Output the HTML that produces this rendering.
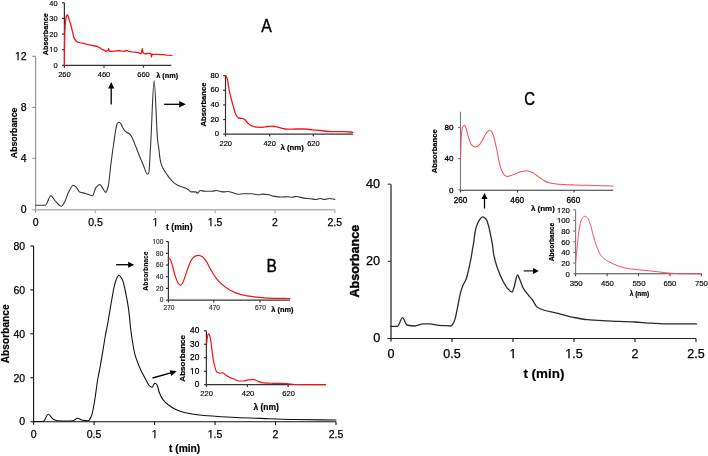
<!DOCTYPE html>
<html><head><meta charset="utf-8"><title>Absorbance chromatograms</title>
<style>
html,body{margin:0;padding:0;background:#fff;}
body{width:708px;height:456px;overflow:hidden;}
svg{display:block;font-family:"Liberation Sans",sans-serif;will-change:transform;}
</style></head>
<body>
<svg width="708" height="456" viewBox="0 0 708 456">
<rect width="708" height="456" fill="#fff"/>
<line x1="35.6" y1="56.3" x2="35.6" y2="212.7" stroke="#8c8c8c" stroke-width="1.1"/>
<line x1="32.4" y1="56.3" x2="35.6" y2="56.3" stroke="#8c8c8c" stroke-width="1.1"/>
<line x1="32.4" y1="107.4" x2="35.6" y2="107.4" stroke="#8c8c8c" stroke-width="1.1"/>
<line x1="32.4" y1="158.4" x2="35.6" y2="158.4" stroke="#8c8c8c" stroke-width="1.1"/>
<line x1="32.2" y1="209.7" x2="335.3" y2="209.7" stroke="#b4b4b4" stroke-width="1.5"/>
<line x1="95.45" y1="209.7" x2="95.45" y2="213.2" stroke="#b4b4b4" stroke-width="1.3"/>
<line x1="155.3" y1="209.7" x2="155.3" y2="213.2" stroke="#b4b4b4" stroke-width="1.3"/>
<line x1="215.15" y1="209.7" x2="215.15" y2="213.2" stroke="#b4b4b4" stroke-width="1.3"/>
<line x1="275" y1="209.7" x2="275" y2="213.2" stroke="#b4b4b4" stroke-width="1.3"/>
<line x1="334.85" y1="209.7" x2="334.85" y2="213.2" stroke="#b4b4b4" stroke-width="1.3"/>
<text x="26.6" y="60.1" font-size="10.5" text-anchor="end" fill="#000" stroke="#000" stroke-width="0.25">12</text>
<text x="26.6" y="111.2" font-size="10.5" text-anchor="end" fill="#000" stroke="#000" stroke-width="0.25">8</text>
<text x="26.6" y="162.2" font-size="10.5" text-anchor="end" fill="#000" stroke="#000" stroke-width="0.25">4</text>
<text x="26.6" y="213.3" font-size="10.5" text-anchor="end" fill="#000" stroke="#000" stroke-width="0.25">0</text>
<text x="35.6" y="226.3" font-size="10.5" text-anchor="middle" fill="#000" stroke="#000" stroke-width="0.25">0</text>
<text x="95.45" y="226.3" font-size="10.5" text-anchor="middle" fill="#000" stroke="#000" stroke-width="0.25">0.5</text>
<text x="155.3" y="226.3" font-size="10.5" text-anchor="middle" fill="#000" stroke="#000" stroke-width="0.25">1</text>
<text x="215.15" y="226.3" font-size="10.5" text-anchor="middle" fill="#000" stroke="#000" stroke-width="0.25">1.5</text>
<text x="275" y="226.3" font-size="10.5" text-anchor="middle" fill="#000" stroke="#000" stroke-width="0.25">2</text>
<text x="334.85" y="226.3" font-size="10.5" text-anchor="middle" fill="#000" stroke="#000" stroke-width="0.25">2.5</text>
<text x="17.4" y="132.9" font-size="8.75" text-anchor="middle" font-weight="bold" fill="#000" stroke="#000" stroke-width="0.2" transform="rotate(-90 17.4 132.9)">Absorbance</text>
<text x="179.3" y="230.1" font-size="8.7" text-anchor="middle" font-weight="bold" fill="#000" stroke="#000" stroke-width="0.2">t (min)</text>
<text x="266.6" y="31.7" font-size="17.7" text-anchor="middle" fill="#000" stroke="#000" stroke-width="0.35" transform="translate(266.6 31.7) scale(0.89 1) translate(-266.6 -31.7)">A</text>
<path d="M35.8,205.3 C38.97,205.3 42.13,205.3 45.3,205.3 C47.13,205.3 48.97,195.7 50.8,195.7 C52.47,195.7 54.13,200.07 55.8,201.7 C57.63,203.49 59.47,206.2 61.3,206.2 C62.53,206.2 63.77,203.39 65,201.2 C66.1,199.25 67.2,194.91 68.3,192.8 C69.97,189.6 71.63,185.3 73.3,185.3 C74.43,185.3 75.57,186.7 76.7,187.8 C77.7,188.77 78.7,191.55 79.7,192 C81.47,192.79 83.23,192.81 85,193.3 C87.5,193.99 90,195.7 92.5,195.7 C93.6,195.7 94.7,189.24 95.8,187.8 C97.03,186.18 98.27,184.5 99.5,184.5 C100.5,184.5 101.5,186.54 102.5,187.8 C103.53,189.1 104.57,192.4 105.6,192.4 C106.5,192.4 107.4,189.35 108.3,186 C109.13,182.9 109.97,171.68 110.8,165 C111.45,159.79 112.1,154.72 112.75,150 C113.07,147.7 113.38,145.61 113.7,143.4 C114.07,140.84 114.43,138.09 114.8,135.7 C115.2,133.09 115.6,130.38 116,128.4 C116.37,126.59 116.73,124.32 117.1,123.8 C117.73,122.9 118.37,122.3 119,122.3 C119.67,122.3 120.33,123.02 121,123.8 C121.5,124.38 122,126.35 122.5,127.3 C123.13,128.5 123.77,129.58 124.4,130.3 C125.17,131.17 125.93,131.74 126.7,132.3 C127.73,133.05 128.77,133.31 129.8,134.2 C130.3,134.63 130.8,135.31 131.3,136.1 C132.07,137.3 132.83,139.33 133.6,141.1 C134.63,143.49 135.67,146.15 136.7,148.8 C137.33,150.42 137.97,152.2 138.6,153.8 C140.17,157.75 141.73,161.43 143.3,165 C144.7,168.19 146.1,174.2 147.5,174.2 C147.9,174.2 148.3,173.86 148.7,173.3 C149.13,172.69 149.57,163.33 150,156.7 C150.3,152.11 150.6,145.57 150.9,140 C151.97,120.2 153.03,80.6 154.1,80.6 C155.27,80.6 156.43,128.92 157.6,140 C158.07,144.43 158.53,146.34 159,150 C159.33,152.61 159.67,156.71 160,158.6 C160.53,161.63 161.07,163.61 161.6,165.1 C162.47,167.52 163.33,168.9 164.2,170.4 C165.07,171.9 165.93,173.08 166.8,174.3 C168.2,176.27 169.6,178.33 171,179.8 C172.93,181.83 174.87,183.77 176.8,184.8 C178.7,185.81 180.6,186.21 182.5,187 C184.37,187.77 186.23,188.38 188.1,189.5 C189.07,190.08 190.03,191.9 191,191.9 C192.63,191.9 194.27,191.9 195.9,191.9 C196.37,191.9 196.83,193.3 197.3,193.3 C198.23,193.3 199.17,190.5 200.1,190.5 C201.77,190.5 203.43,191.2 205.1,191.2 C207.43,191.2 209.77,191.2 212.1,191.2 C213.53,191.2 214.97,190.5 216.4,190.5 C217.8,190.5 219.2,191.25 220.6,191.5 C221.53,191.66 222.47,191.9 223.4,191.9 C224.83,191.9 226.27,191.5 227.7,191.5 C230.03,191.5 232.37,192.73 234.7,193.3 C236.13,193.65 237.57,194.3 239,194.3 C240.4,194.3 241.8,193.7 243.2,193.7 C246.03,193.7 248.87,193.7 251.7,193.7 C253.93,193.7 256.17,194.8 258.4,194.8 C259.73,194.8 261.07,194.1 262.4,194.1 C264.67,194.1 266.93,194.43 269.2,194.8 C270.53,195.02 271.87,195.86 273.2,196.1 C275.87,196.57 278.53,197 281.2,197 C283.47,197 285.73,196.8 288,196.8 C289.33,196.8 290.67,197.2 292,197.2 C293.33,197.2 294.67,196.5 296,196.5 C298.7,196.5 301.4,197.73 304.1,198.1 C306.33,198.4 308.57,198.54 310.8,198.8 C312.57,199.01 314.33,199.5 316.1,199.5 C317.47,199.5 318.83,198.5 320.2,198.5 C321.53,198.5 322.87,199.5 324.2,199.5 C326,199.5 327.8,198.5 329.6,198.5 C331.37,198.5 333.13,199.17 334.9,199.5" fill="none" stroke="#363636" stroke-width="1.1" stroke-linejoin="round" stroke-linecap="round"/>
<line x1="64.4" y1="2.8" x2="64.4" y2="65.3" stroke="#333" stroke-width="1.2"/>
<line x1="62" y1="65.3" x2="64.4" y2="65.3" stroke="#333" stroke-width="1.2"/>
<line x1="62" y1="49.67" x2="64.4" y2="49.67" stroke="#333" stroke-width="1.2"/>
<line x1="62" y1="34.05" x2="64.4" y2="34.05" stroke="#333" stroke-width="1.2"/>
<line x1="62" y1="18.42" x2="64.4" y2="18.42" stroke="#333" stroke-width="1.2"/>
<line x1="62" y1="2.8" x2="64.4" y2="2.8" stroke="#333" stroke-width="1.2"/>
<line x1="64.4" y1="65.3" x2="171.3" y2="65.3" stroke="#333" stroke-width="1.2"/>
<line x1="64.4" y1="65.3" x2="64.4" y2="67.7" stroke="#333" stroke-width="1.2"/>
<line x1="104" y1="65.3" x2="104" y2="67.7" stroke="#333" stroke-width="1.2"/>
<line x1="143.5" y1="65.3" x2="143.5" y2="67.7" stroke="#333" stroke-width="1.2"/>
<text x="57.6" y="68" font-size="7.5" text-anchor="end" fill="#000" stroke="#000" stroke-width="0.15">0</text>
<text x="57.6" y="52.38" font-size="7.5" text-anchor="end" fill="#000" stroke="#000" stroke-width="0.15">10</text>
<text x="57.6" y="36.75" font-size="7.5" text-anchor="end" fill="#000" stroke="#000" stroke-width="0.15">20</text>
<text x="57.6" y="21.12" font-size="7.5" text-anchor="end" fill="#000" stroke="#000" stroke-width="0.15">30</text>
<text x="57.6" y="5.5" font-size="7.5" text-anchor="end" fill="#000" stroke="#000" stroke-width="0.15">40</text>
<text x="64.4" y="76.8" font-size="7.5" text-anchor="middle" fill="#000" stroke="#000" stroke-width="0.15">260</text>
<text x="104" y="76.8" font-size="7.5" text-anchor="middle" fill="#000" stroke="#000" stroke-width="0.15">460</text>
<text x="143.5" y="76.8" font-size="7.5" text-anchor="middle" fill="#000" stroke="#000" stroke-width="0.15">660</text>
<text x="48.3" y="34.2" font-size="7.3" text-anchor="middle" font-weight="bold" fill="#000" stroke="#000" stroke-width="0.2" transform="rotate(-90 48.3 34.2)">Absorbance</text>
<text x="167.2" y="78.2" font-size="7.3" text-anchor="middle" font-weight="bold" fill="#000" stroke="#000" stroke-width="0.2">λ (nm)</text>
<path d="M64.4,65.3 L64.5,50 L64.6,40.9 L64.9,29.9 L65.5,21.2 L66.4,16.2 L67.3,14.8 L68.2,16.2 L69.3,20.1 L71,25.5 L72.6,32.1 L73.7,37.1 L75.4,40.3 L77.5,42.2 L80.8,42.9 L83,43.1 L86.3,44.2 L90.7,45.1 L95.1,46 L97.3,46.5 L99.5,47.6 L101.8,49.3 L104,50.1 L105.7,51.4 L107.4,50.7 L108.2,50.5 L108.6,48.3 L109.1,51 L111.4,51.4 L114.8,51.1 L118.7,50.7 L122.1,51.1 L124.4,51.4 L126.4,50.3 L128.9,51.4 L131.7,51.8 L135.1,52.1 L138.2,52.7 L140.4,53.7 L141.5,52.9 L142.3,48.7 L143.1,52.7 L145.1,54 L147.5,53.4 L150.9,53.4 L151.5,56.8 L152.2,54.3 L156.9,54.4 L163.1,54.6 L166.8,55.2 L171.8,55.4" fill="none" stroke="#f41414" stroke-width="1.3" stroke-linejoin="round" stroke-linecap="round"/>
<line x1="225.5" y1="75.7" x2="225.5" y2="134.1" stroke="#333" stroke-width="1.2"/>
<line x1="223.1" y1="134.1" x2="225.5" y2="134.1" stroke="#333" stroke-width="1.2"/>
<line x1="223.1" y1="119.5" x2="225.5" y2="119.5" stroke="#333" stroke-width="1.2"/>
<line x1="223.1" y1="104.9" x2="225.5" y2="104.9" stroke="#333" stroke-width="1.2"/>
<line x1="223.1" y1="90.3" x2="225.5" y2="90.3" stroke="#333" stroke-width="1.2"/>
<line x1="223.1" y1="75.7" x2="225.5" y2="75.7" stroke="#333" stroke-width="1.2"/>
<line x1="225.5" y1="134.1" x2="353" y2="134.1" stroke="#333" stroke-width="1.4"/>
<line x1="225.5" y1="134.1" x2="225.5" y2="136.5" stroke="#333" stroke-width="1.2"/>
<line x1="269.7" y1="134.1" x2="269.7" y2="136.5" stroke="#333" stroke-width="1.2"/>
<line x1="313.3" y1="134.1" x2="313.3" y2="136.5" stroke="#333" stroke-width="1.2"/>
<text x="218.9" y="136.2" font-size="7.6" text-anchor="end" fill="#000" stroke="#000" stroke-width="0.22">0</text>
<text x="218.9" y="121.6" font-size="7.6" text-anchor="end" fill="#000" stroke="#000" stroke-width="0.22">20</text>
<text x="218.9" y="107" font-size="7.6" text-anchor="end" fill="#000" stroke="#000" stroke-width="0.22">40</text>
<text x="218.9" y="92.4" font-size="7.6" text-anchor="end" fill="#000" stroke="#000" stroke-width="0.22">60</text>
<text x="218.9" y="77.8" font-size="7.6" text-anchor="end" fill="#000" stroke="#000" stroke-width="0.22">80</text>
<text x="225.8" y="146.1" font-size="7.5" text-anchor="middle" fill="#000" stroke="#000" stroke-width="0.15">220</text>
<text x="269.7" y="146.1" font-size="7.5" text-anchor="middle" fill="#000" stroke="#000" stroke-width="0.15">420</text>
<text x="313.4" y="146.1" font-size="7.5" text-anchor="middle" fill="#000" stroke="#000" stroke-width="0.15">620</text>
<text x="206" y="104.5" font-size="7.6" text-anchor="middle" font-weight="bold" fill="#000" stroke="#000" stroke-width="0.2" transform="rotate(-90 206 104.5)">Absorbance</text>
<text x="292.2" y="149.6" font-size="7.8" text-anchor="middle" font-weight="bold" fill="#000" stroke="#000" stroke-width="0.2">λ (nm)</text>
<path d="M225.9,75.7 C226.37,76.8 226.83,77.42 227.3,79 C227.77,80.58 228.23,85.04 228.7,87.5 C229.53,91.9 230.37,95.56 231.2,98.9 C231.93,101.84 232.67,104.31 233.4,106.8 C234.2,109.51 235,113.01 235.8,114.5 C236.7,116.18 237.6,117.79 238.5,118 C239.6,118.25 240.7,118.2 241.8,118.4 C242.7,118.57 243.6,118.9 244.5,119.4 C245.6,120.01 246.7,122.26 247.8,123.2 C249.13,124.34 250.47,125.41 251.8,125.9 C253.57,126.55 255.33,127.14 257.1,127.2 C258.87,127.26 260.63,127.3 262.4,127.3 C264.17,127.3 265.93,126.67 267.7,126.5 C269.03,126.37 270.37,126.2 271.7,126.2 C272.97,126.2 274.23,126.42 275.5,126.6 C277.2,126.85 278.9,127.52 280.6,127.9 C282.83,128.4 285.07,129.2 287.3,129.2 C290.4,129.2 293.5,129 296.6,129 C299.23,129 301.87,129 304.5,129 C307.17,129 309.83,129.66 312.5,129.9 C315.17,130.14 317.83,130.27 320.5,130.5 C324.03,130.81 327.57,131.6 331.1,131.6 C335.53,131.6 339.97,131.6 344.4,131.6 C347.27,131.6 350.13,132.07 353,132.3" fill="none" stroke="#f41414" stroke-width="1.3" stroke-linejoin="round" stroke-linecap="round"/>
<line x1="111.2" y1="104.6" x2="111.2" y2="88" stroke="#000" stroke-width="1.3"/>
<path d="M111.2,81.9 L114.3,88.5 L108.1,88.5 Z" fill="#000"/>
<line x1="164.2" y1="104.3" x2="179.7" y2="104.3" stroke="#000" stroke-width="1.3"/>
<path d="M185.8,104.3 L179.2,107.6 L179.2,101 Z" fill="#000"/>
<line x1="33.6" y1="246" x2="33.6" y2="424.7" stroke="#111" stroke-width="1.1"/>
<line x1="30.4" y1="246" x2="33.6" y2="246" stroke="#111" stroke-width="1.1"/>
<line x1="30.4" y1="289.9" x2="33.6" y2="289.9" stroke="#111" stroke-width="1.1"/>
<line x1="30.4" y1="333.8" x2="33.6" y2="333.8" stroke="#111" stroke-width="1.1"/>
<line x1="30.4" y1="377.7" x2="33.6" y2="377.7" stroke="#111" stroke-width="1.1"/>
<line x1="30.4" y1="421.7" x2="336" y2="421.7" stroke="#111" stroke-width="1.1"/>
<line x1="94.08" y1="421.7" x2="94.08" y2="425.1" stroke="#111" stroke-width="1.1"/>
<line x1="154.56" y1="421.7" x2="154.56" y2="425.1" stroke="#111" stroke-width="1.1"/>
<line x1="215.04" y1="421.7" x2="215.04" y2="425.1" stroke="#111" stroke-width="1.1"/>
<line x1="275.52" y1="421.7" x2="275.52" y2="425.1" stroke="#111" stroke-width="1.1"/>
<line x1="336" y1="421.7" x2="336" y2="425.1" stroke="#111" stroke-width="1.1"/>
<text x="25.2" y="249.8" font-size="10.5" text-anchor="end" fill="#000" stroke="#000" stroke-width="0.25">80</text>
<text x="25.2" y="293.7" font-size="10.5" text-anchor="end" fill="#000" stroke="#000" stroke-width="0.25">60</text>
<text x="25.2" y="337.6" font-size="10.5" text-anchor="end" fill="#000" stroke="#000" stroke-width="0.25">40</text>
<text x="25.2" y="381.5" font-size="10.5" text-anchor="end" fill="#000" stroke="#000" stroke-width="0.25">20</text>
<text x="25.2" y="425.4" font-size="10.5" text-anchor="end" fill="#000" stroke="#000" stroke-width="0.25">0</text>
<text x="33.6" y="437.6" font-size="10.5" text-anchor="middle" fill="#000" stroke="#000" stroke-width="0.25">0</text>
<text x="94.08" y="437.6" font-size="10.5" text-anchor="middle" fill="#000" stroke="#000" stroke-width="0.25">0.5</text>
<text x="154.56" y="437.6" font-size="10.5" text-anchor="middle" fill="#000" stroke="#000" stroke-width="0.25">1</text>
<text x="215.04" y="437.6" font-size="10.5" text-anchor="middle" fill="#000" stroke="#000" stroke-width="0.25">1.5</text>
<text x="275.52" y="437.6" font-size="10.5" text-anchor="middle" fill="#000" stroke="#000" stroke-width="0.25">2</text>
<text x="336" y="437.6" font-size="10.5" text-anchor="middle" fill="#000" stroke="#000" stroke-width="0.25">2.5</text>
<text x="9" y="333.8" font-size="10.2" text-anchor="middle" font-weight="bold" fill="#000" stroke="#000" stroke-width="0.2" transform="rotate(-90 9 333.8)">Absorbance</text>
<text x="184.6" y="452.3" font-size="10.2" text-anchor="middle" font-weight="bold" fill="#000" stroke="#000" stroke-width="0.2">t (min)</text>
<text x="271.8" y="271.7" font-size="17.9" text-anchor="middle" fill="#000" stroke="#000" stroke-width="0.4" transform="translate(271.8 271.7) scale(0.87 1) translate(-271.8 -271.7)">B</text>
<path d="M33.8,421.5 C36.87,421.5 39.93,421.5 43,421.5 C44.77,421.5 46.53,414.3 48.3,414.3 C49.97,414.3 51.63,418.48 53.3,419.3 C54.7,419.99 56.1,420.61 57.5,420.7 C60.57,420.9 63.63,421 66.7,421 C68.9,421 71.1,420.9 73.3,420.7 C74.7,420.57 76.1,418.2 77.5,418.2 C79.17,418.2 80.83,419.96 82.5,420.2 C84.43,420.48 86.37,420.7 88.3,420.7 C89.43,420.7 90.57,417.99 91.7,415.2 C92.67,412.82 93.63,406.56 94.6,401 C95.6,395.24 96.6,385.94 97.6,380 C98.5,374.65 99.4,370.98 100.3,366 C101.2,361.02 102.1,355.41 103,350 C103.77,345.39 104.53,340.3 105.3,336 C106.13,331.32 106.97,327.58 107.8,323 C109.1,315.85 110.4,307.07 111.7,300 C112.8,294.02 113.9,286.6 115,283.3 C116.27,279.5 117.53,275.3 118.8,275.3 C120.03,275.3 121.27,277.59 122.5,280 C123.6,282.15 124.7,288.06 125.8,293.3 C126.77,297.9 127.73,302.97 128.7,310 C129.4,315.09 130.1,324.34 130.8,330 C131.27,333.77 131.73,337.11 132.2,340 C133.1,345.58 134,351.01 134.9,354.4 C136.4,360.05 137.9,363.48 139.4,367 C141.2,371.22 143,374.61 144.8,377.8 C146.6,380.99 148.4,385.26 150.2,386.4 C150.8,386.78 151.4,387.2 152,387.2 C152.5,387.2 153,385.69 153.5,385 C153.93,384.4 154.37,383.3 154.8,383.3 C155.37,383.3 155.93,383.71 156.5,384.2 C156.83,384.49 157.17,385.22 157.5,386 C158.07,387.33 158.63,390.68 159.2,392.2 C160.4,395.41 161.6,397.76 162.8,399.4 C164.6,401.85 166.4,403.4 168.2,404.8 C170.6,406.67 173,408.2 175.4,409.3 C178.4,410.67 181.4,411.78 184.4,412.5 C188.6,413.5 192.8,414.22 197,414.7 C203,415.39 209,415.77 215,416.2 C222,416.7 229,417.17 236,417.5 C247.1,418.02 258.2,418.32 269.3,418.7 C277.63,418.98 285.97,419.35 294.3,419.5 C308.2,419.75 322.1,419.83 336,420" fill="none" stroke="#111" stroke-width="1.1" stroke-linejoin="round" stroke-linecap="round"/>
<line x1="168.4" y1="241.6" x2="168.4" y2="300.2" stroke="#333" stroke-width="1.2"/>
<line x1="166" y1="300.1" x2="168.4" y2="300.1" stroke="#333" stroke-width="1.2"/>
<line x1="166" y1="288.4" x2="168.4" y2="288.4" stroke="#333" stroke-width="1.2"/>
<line x1="166" y1="276.7" x2="168.4" y2="276.7" stroke="#333" stroke-width="1.2"/>
<line x1="166" y1="265" x2="168.4" y2="265" stroke="#333" stroke-width="1.2"/>
<line x1="166" y1="253.3" x2="168.4" y2="253.3" stroke="#333" stroke-width="1.2"/>
<line x1="166" y1="241.6" x2="168.4" y2="241.6" stroke="#333" stroke-width="1.2"/>
<line x1="168.4" y1="300.2" x2="290" y2="300.2" stroke="#333" stroke-width="1.3"/>
<line x1="168.4" y1="300.2" x2="168.4" y2="302.6" stroke="#333" stroke-width="1.2"/>
<line x1="213.8" y1="300.2" x2="213.8" y2="302.6" stroke="#333" stroke-width="1.2"/>
<line x1="259.9" y1="300.2" x2="259.9" y2="302.6" stroke="#333" stroke-width="1.2"/>
<text x="163.3" y="302.4" font-size="6.5" text-anchor="end" fill="#3a3a3a" stroke="#3a3a3a" stroke-width="0.2">0</text>
<text x="163.3" y="290.7" font-size="6.5" text-anchor="end" fill="#3a3a3a" stroke="#3a3a3a" stroke-width="0.2">20</text>
<text x="163.3" y="279" font-size="6.5" text-anchor="end" fill="#3a3a3a" stroke="#3a3a3a" stroke-width="0.2">40</text>
<text x="163.3" y="267.3" font-size="6.5" text-anchor="end" fill="#3a3a3a" stroke="#3a3a3a" stroke-width="0.2">60</text>
<text x="163.3" y="255.6" font-size="6.5" text-anchor="end" fill="#3a3a3a" stroke="#3a3a3a" stroke-width="0.2">80</text>
<text x="163.3" y="243.9" font-size="6.5" text-anchor="end" fill="#3a3a3a" stroke="#3a3a3a" stroke-width="0.2">100</text>
<text x="169" y="309.9" font-size="6.5" text-anchor="middle" fill="#3a3a3a" stroke="#3a3a3a" stroke-width="0.2">270</text>
<text x="214.5" y="309.9" font-size="6.5" text-anchor="middle" fill="#3a3a3a" stroke="#3a3a3a" stroke-width="0.2">470</text>
<text x="260.4" y="309.9" font-size="6.5" text-anchor="middle" fill="#3a3a3a" stroke="#3a3a3a" stroke-width="0.2">670</text>
<text x="148.1" y="271" font-size="6.8" text-anchor="middle" font-weight="bold" fill="#000" stroke="#000" stroke-width="0.1" transform="rotate(-90 148.1 271)">Absorbnace</text>
<text x="282.4" y="312" font-size="7.4" text-anchor="middle" font-weight="bold" fill="#000" stroke="#000" stroke-width="0.2">λ (nm)</text>
<path d="M168.3,259.3 C168.7,259.1 169.1,258.7 169.5,258.7 C170.3,258.7 171.1,261.57 171.9,263.7 C172.87,266.27 173.83,271.6 174.8,274.6 C175.8,277.7 176.8,280.95 177.8,282.5 C178.67,283.85 179.53,285.4 180.4,285.4 C181.17,285.4 181.93,283.92 182.7,282.7 C184.03,280.58 185.37,275.06 186.7,271.6 C188.33,267.36 189.97,261.94 191.6,259.7 C192.93,257.87 194.27,256.17 195.6,255.8 C196.6,255.52 197.6,255.3 198.6,255.3 C199.9,255.3 201.2,256.04 202.5,256.8 C203.83,257.58 205.17,259.72 206.5,261.7 C207.87,263.72 209.23,267.08 210.6,269.4 C212.83,273.19 215.07,277.01 217.3,279.6 C220.03,282.78 222.77,285.27 225.5,287.2 C228.7,289.45 231.9,291.4 235.1,292.6 C239.07,294.09 243.03,295.24 247,295.9 C250.97,296.56 254.93,296.97 258.9,297.3 C264.17,297.74 269.43,298.19 274.7,298.3 C279.8,298.41 284.9,298.43 290,298.5" fill="none" stroke="#f41414" stroke-width="1.2" stroke-linejoin="round" stroke-linecap="round"/>
<line x1="206.4" y1="330.8" x2="206.4" y2="384.7" stroke="#333" stroke-width="1.2"/>
<line x1="204" y1="384.7" x2="206.4" y2="384.7" stroke="#333" stroke-width="1.2"/>
<line x1="204" y1="371.22" x2="206.4" y2="371.22" stroke="#333" stroke-width="1.2"/>
<line x1="204" y1="357.74" x2="206.4" y2="357.74" stroke="#333" stroke-width="1.2"/>
<line x1="204" y1="344.26" x2="206.4" y2="344.26" stroke="#333" stroke-width="1.2"/>
<line x1="204" y1="330.78" x2="206.4" y2="330.78" stroke="#333" stroke-width="1.2"/>
<line x1="206.4" y1="384.7" x2="325.8" y2="384.7" stroke="#333" stroke-width="1.3"/>
<line x1="206.5" y1="384.7" x2="206.5" y2="387.1" stroke="#333" stroke-width="1.2"/>
<line x1="247.3" y1="384.7" x2="247.3" y2="387.1" stroke="#333" stroke-width="1.2"/>
<line x1="288.1" y1="384.7" x2="288.1" y2="387.1" stroke="#333" stroke-width="1.2"/>
<text x="199.3" y="387.4" font-size="8.3" text-anchor="end" fill="#000" stroke="#000" stroke-width="0.25">0</text>
<text x="199.3" y="373.92" font-size="8.3" text-anchor="end" fill="#000" stroke="#000" stroke-width="0.25">10</text>
<text x="199.3" y="360.44" font-size="8.3" text-anchor="end" fill="#000" stroke="#000" stroke-width="0.25">20</text>
<text x="199.3" y="346.96" font-size="8.3" text-anchor="end" fill="#000" stroke="#000" stroke-width="0.25">30</text>
<text x="199.3" y="333.48" font-size="8.3" text-anchor="end" fill="#000" stroke="#000" stroke-width="0.25">40</text>
<text x="206.7" y="395.9" font-size="7.6" text-anchor="middle" fill="#000" stroke="#000" stroke-width="0.15">220</text>
<text x="248" y="395.9" font-size="7.6" text-anchor="middle" fill="#000" stroke="#000" stroke-width="0.15">420</text>
<text x="288.7" y="395.9" font-size="7.6" text-anchor="middle" fill="#000" stroke="#000" stroke-width="0.15">620</text>
<text x="185.5" y="358.3" font-size="8.1" text-anchor="middle" font-weight="bold" fill="#000" stroke="#000" stroke-width="0.2" transform="rotate(-90 185.5 358.3)">Absorbance</text>
<text x="266.2" y="410" font-size="8.5" text-anchor="middle" font-weight="bold" fill="#000" stroke="#000" stroke-width="0.2">λ (nm)</text>
<path d="M206.5,343.8 C206.97,340.83 207.43,335.68 207.9,334.9 C208.23,334.35 208.57,333.9 208.9,333.9 C209.37,333.9 209.83,336 210.3,337.9 C210.83,340.08 211.37,345.92 211.9,349.7 C212.53,354.18 213.17,359.79 213.8,362.6 C214.8,367.04 215.8,371.5 216.8,372.1 C217.8,372.7 218.8,373.1 219.8,373.1 C220.77,373.1 221.73,372.9 222.7,372.9 C223.7,372.9 224.7,374.35 225.7,375 C227.03,375.86 228.37,376.75 229.7,377.4 C231,378.03 232.3,378.47 233.6,379 C235.27,379.68 236.93,381 238.6,381 C240.23,381 241.87,381 243.5,381 C245.13,381 246.77,380.01 248.4,379.8 C249.93,379.6 251.47,379.4 253,379.4 C254.43,379.4 255.87,380.52 257.3,381 C259.3,381.67 261.3,382.62 263.3,382.8 C266.6,383.1 269.9,383.18 273.2,383.3 C277.8,383.47 282.4,383.48 287,383.7 C289.63,383.82 292.27,384.46 294.9,384.5 C305.13,384.65 315.37,384.63 325.6,384.7" fill="none" stroke="#f41414" stroke-width="1.2" stroke-linejoin="round" stroke-linecap="round"/>
<line x1="116.1" y1="264.7" x2="128.6" y2="264.7" stroke="#000" stroke-width="1.3"/>
<path d="M134.1,264.7 L128.1,267.7 L128.1,261.7 Z" fill="#000"/>
<line x1="152.5" y1="378" x2="170.92" y2="372.9" stroke="#000" stroke-width="1.3"/>
<path d="M176.7,371.3 L171.24,375.93 L169.64,370.14 Z" fill="#000"/>
<line x1="391" y1="184.2" x2="391" y2="341.5" stroke="#555" stroke-width="1.6"/>
<line x1="387.7" y1="184.2" x2="391" y2="184.2" stroke="#555" stroke-width="1.3"/>
<line x1="387.7" y1="261.35" x2="391" y2="261.35" stroke="#555" stroke-width="1.3"/>
<line x1="387.4" y1="338.5" x2="696" y2="338.5" stroke="#222" stroke-width="1.2"/>
<line x1="452" y1="338.5" x2="452" y2="341.9" stroke="#222" stroke-width="1.2"/>
<line x1="513" y1="338.5" x2="513" y2="341.9" stroke="#222" stroke-width="1.2"/>
<line x1="574" y1="338.5" x2="574" y2="341.9" stroke="#222" stroke-width="1.2"/>
<line x1="635" y1="338.5" x2="635" y2="341.9" stroke="#222" stroke-width="1.2"/>
<line x1="696" y1="338.5" x2="696" y2="341.9" stroke="#222" stroke-width="1.2"/>
<text x="380.2" y="188.1" font-size="12.7" text-anchor="end" fill="#000" stroke="#000" stroke-width="0.25">40</text>
<text x="380.2" y="265.25" font-size="12.7" text-anchor="end" fill="#000" stroke="#000" stroke-width="0.25">20</text>
<text x="380.2" y="342.4" font-size="12.7" text-anchor="end" fill="#000" stroke="#000" stroke-width="0.25">0</text>
<text x="391" y="358" font-size="12.5" text-anchor="middle" fill="#000" stroke="#000" stroke-width="0.25">0</text>
<text x="452" y="358" font-size="12.5" text-anchor="middle" fill="#000" stroke="#000" stroke-width="0.25">0.5</text>
<text x="513" y="358" font-size="12.5" text-anchor="middle" fill="#000" stroke="#000" stroke-width="0.25">1</text>
<text x="574" y="358" font-size="12.5" text-anchor="middle" fill="#000" stroke="#000" stroke-width="0.25">1.5</text>
<text x="635" y="358" font-size="12.5" text-anchor="middle" fill="#000" stroke="#000" stroke-width="0.25">2</text>
<text x="696" y="358" font-size="12.5" text-anchor="middle" fill="#000" stroke="#000" stroke-width="0.25">2.5</text>
<text x="359.1" y="261.2" font-size="12.6" text-anchor="middle" font-weight="bold" fill="#000" stroke="#000" stroke-width="0.4" transform="rotate(-90 359.1 261.2)">Absorbance</text>
<text x="543.9" y="377.6" font-size="13.4" text-anchor="middle" font-weight="bold" fill="#000" stroke="#000" stroke-width="0.2">t (min)</text>
<text x="529.6" y="104.8" font-size="17.8" text-anchor="middle" fill="#000" stroke="#000" stroke-width="0.4" transform="translate(529.6 104.8) scale(0.84 1) translate(-529.6 -104.8)">C</text>
<path d="M391,326.4 C393.17,326.4 395.33,326.4 397.5,326.4 C399.17,326.4 400.83,317.7 402.5,317.7 C403.97,317.7 405.43,324.62 406.9,325 C409.47,325.67 412.03,326 414.6,326 C417.5,326 420.4,323.9 423.3,323.9 C425.5,323.9 427.7,323.9 429.9,323.9 C432.83,323.9 435.77,325.22 438.7,325.4 C441.43,325.56 444.17,325.56 446.9,325.7 C448.17,325.77 449.43,326 450.7,326 C451.47,326 452.23,324.78 453,323.7 C453.67,322.76 454.33,321.12 455,319.1 C455.53,317.48 456.07,314.69 456.6,312.2 C457.2,309.4 457.8,305.94 458.4,303 C459.17,299.24 459.93,295.01 460.7,292.2 C461.47,289.39 462.23,287.14 463,285.3 C464.03,282.82 465.07,281.89 466.1,279.2 C466.87,277.2 467.63,273.86 468.4,270.7 C469.17,267.54 469.93,264.01 470.7,260 C471.27,257.04 471.83,253.32 472.4,250 C472.8,247.66 473.2,245.64 473.6,243 C474,240.36 474.4,236.23 474.8,233.9 C475.3,230.99 475.8,228.51 476.3,226.9 C477.17,224.11 478.03,222.11 478.9,220.8 C480.13,218.93 481.37,216.8 482.6,216.8 C483.73,216.8 484.87,217.78 486,219 C486.87,219.93 487.73,223.05 488.6,226 C489.33,228.5 490.07,232.4 490.8,236 C491.37,238.78 491.93,241.27 492.5,245 C492.83,247.2 493.17,251.44 493.5,253.3 C494.83,260.75 496.17,264.43 497.5,268.3 C499.43,273.91 501.37,278.2 503.3,281.7 C504.97,284.72 506.63,287.55 508.3,289.2 C509.53,290.42 510.77,292 512,292 C512.73,292 513.47,288.78 514.2,286.7 C515.3,283.58 516.4,275 517.5,275 C518.33,275 519.17,278.15 520,280 C521.1,282.44 522.2,286.34 523.3,288.3 C524.97,291.28 526.63,292.9 528.3,295 C529.7,296.76 531.1,298.09 532.5,300 C533.9,301.91 535.3,305.59 536.7,306.7 C538.9,308.44 541.1,309.28 543.3,310 C548.2,311.6 553.1,312.11 558,313.3 C563.07,314.53 568.13,316.26 573.2,317.3 C577.97,318.27 582.73,319.28 587.5,319.7 C593.8,320.26 600.1,320.49 606.4,320.8 C615.9,321.27 625.4,321.48 634.9,322 C640.43,322.3 645.97,322.93 651.5,323.2 C657.83,323.51 664.17,323.9 670.5,323.9 C679.2,323.9 687.9,323.9 696.6,323.9" fill="none" stroke="#2a2a2a" stroke-width="1.3" stroke-linejoin="round" stroke-linecap="round"/>
<line x1="460.5" y1="111.7" x2="460.5" y2="190" stroke="#777" stroke-width="1.1"/>
<line x1="458.1" y1="189.8" x2="460.5" y2="189.8" stroke="#777" stroke-width="1.1"/>
<line x1="458.1" y1="158.6" x2="460.5" y2="158.6" stroke="#777" stroke-width="1.1"/>
<line x1="458.1" y1="127.5" x2="460.5" y2="127.5" stroke="#777" stroke-width="1.1"/>
<line x1="460.5" y1="190.2" x2="613.3" y2="190.2" stroke="#333" stroke-width="1.1"/>
<line x1="460.5" y1="190.2" x2="460.5" y2="192.6" stroke="#333" stroke-width="1.1"/>
<line x1="517.5" y1="190.2" x2="517.5" y2="192.6" stroke="#333" stroke-width="1.1"/>
<line x1="574" y1="190.2" x2="574" y2="192.6" stroke="#333" stroke-width="1.1"/>
<text x="453.4" y="192.6" font-size="8.1" text-anchor="end" fill="#000" stroke="#000" stroke-width="0.3">0</text>
<text x="453.4" y="161.4" font-size="8.1" text-anchor="end" fill="#000" stroke="#000" stroke-width="0.3">40</text>
<text x="453.4" y="130.3" font-size="8.1" text-anchor="end" fill="#000" stroke="#000" stroke-width="0.3">80</text>
<text x="460.5" y="202.9" font-size="8.2" text-anchor="middle" fill="#000" stroke="#000" stroke-width="0.3">260</text>
<text x="517.2" y="202.9" font-size="8.2" text-anchor="middle" fill="#000" stroke="#000" stroke-width="0.3">460</text>
<text x="573.4" y="202.9" font-size="8.2" text-anchor="middle" fill="#000" stroke="#000" stroke-width="0.3">660</text>
<text x="436.7" y="151.3" font-size="7.6" text-anchor="middle" font-weight="bold" fill="#000" stroke="#000" stroke-width="0.2" transform="rotate(-90 436.7 151.3)">Absorbance</text>
<text x="542.9" y="210.5" font-size="8" text-anchor="middle" font-weight="bold" fill="#000" stroke="#000" stroke-width="0.2">λ (nm)</text>
<path d="M460.5,157.5 C460.77,150.57 461.03,139.98 461.3,136.7 C461.7,131.78 462.1,128.42 462.5,127.5 C463.07,126.19 463.63,125.3 464.2,125.3 C464.73,125.3 465.27,126.47 465.8,127.5 C466.63,129.11 467.47,134.23 468.3,136.7 C469.43,140.06 470.57,143.9 471.7,145 C472.8,146.06 473.9,147 475,147 C476.1,147 477.2,146.42 478.3,145.8 C479.7,145.01 481.1,142.18 482.5,140 C483.9,137.82 485.3,133.92 486.7,132.5 C487.7,131.48 488.7,130.3 489.7,130.3 C490.37,130.3 491.03,130.98 491.7,131.7 C492.53,132.6 493.37,135.55 494.2,138.3 C495.3,141.93 496.4,148.3 497.5,153.3 C498.6,158.3 499.7,165.18 500.8,168.3 C501.4,170 502,171.16 502.6,172.2 C503.4,173.58 504.2,175.2 505,175.6 C505.9,176.05 506.8,176.4 507.7,176.4 C508.8,176.4 509.9,175.93 511,175.6 C512.33,175.2 513.67,174.51 515,174 C517.23,173.15 519.47,172.1 521.7,171.6 C523.27,171.25 524.83,170.8 526.4,170.8 C527.93,170.8 529.47,171.45 531,172 C532.57,172.56 534.13,173.7 535.7,174.7 C537.13,175.62 538.57,176.79 540,177.8 C541.4,178.79 542.8,179.95 544.2,180.7 C545.8,181.56 547.4,182.41 549,182.8 C550.77,183.24 552.53,183.49 554.3,183.7 C557.3,184.06 560.3,184.33 563.3,184.5 C566.53,184.68 569.77,184.79 573,184.9 C578.1,185.07 583.2,185.16 588.3,185.3 C596.63,185.52 604.97,185.77 613.3,186" fill="none" stroke="#f4505c" stroke-width="1.05" stroke-linejoin="round" stroke-linecap="round"/>
<line x1="575.6" y1="209.8" x2="575.6" y2="273.8" stroke="#777" stroke-width="1.1"/>
<line x1="573.2" y1="273.8" x2="575.6" y2="273.8" stroke="#777" stroke-width="1.1"/>
<line x1="573.2" y1="263.13" x2="575.6" y2="263.13" stroke="#777" stroke-width="1.1"/>
<line x1="573.2" y1="252.46" x2="575.6" y2="252.46" stroke="#777" stroke-width="1.1"/>
<line x1="573.2" y1="241.79" x2="575.6" y2="241.79" stroke="#777" stroke-width="1.1"/>
<line x1="573.2" y1="231.12" x2="575.6" y2="231.12" stroke="#777" stroke-width="1.1"/>
<line x1="573.2" y1="220.45" x2="575.6" y2="220.45" stroke="#777" stroke-width="1.1"/>
<line x1="573.2" y1="209.78" x2="575.6" y2="209.78" stroke="#777" stroke-width="1.1"/>
<line x1="575.6" y1="273.8" x2="701.4" y2="273.8" stroke="#444" stroke-width="1.1"/>
<line x1="575.6" y1="273.8" x2="575.6" y2="276.2" stroke="#444" stroke-width="1.1"/>
<line x1="607.1" y1="273.8" x2="607.1" y2="276.2" stroke="#444" stroke-width="1.1"/>
<line x1="638.5" y1="273.8" x2="638.5" y2="276.2" stroke="#444" stroke-width="1.1"/>
<line x1="670" y1="273.8" x2="670" y2="276.2" stroke="#444" stroke-width="1.1"/>
<line x1="701.4" y1="273.8" x2="701.4" y2="276.2" stroke="#444" stroke-width="1.1"/>
<text x="569.9" y="276.6" font-size="7.8" text-anchor="end" fill="#000" stroke="#000" stroke-width="0.15">0</text>
<text x="569.9" y="265.93" font-size="7.8" text-anchor="end" fill="#000" stroke="#000" stroke-width="0.15">20</text>
<text x="569.9" y="255.26" font-size="7.8" text-anchor="end" fill="#000" stroke="#000" stroke-width="0.15">40</text>
<text x="569.9" y="244.59" font-size="7.8" text-anchor="end" fill="#000" stroke="#000" stroke-width="0.15">60</text>
<text x="569.9" y="233.92" font-size="7.8" text-anchor="end" fill="#000" stroke="#000" stroke-width="0.15">80</text>
<text x="569.9" y="223.25" font-size="7.8" text-anchor="end" fill="#000" stroke="#000" stroke-width="0.15">100</text>
<text x="569.9" y="212.58" font-size="7.8" text-anchor="end" fill="#000" stroke="#000" stroke-width="0.15">120</text>
<text x="576.2" y="286.1" font-size="7.8" text-anchor="middle" fill="#000" stroke="#000" stroke-width="0.15">350</text>
<text x="607.4" y="286.1" font-size="7.8" text-anchor="middle" fill="#000" stroke="#000" stroke-width="0.15">450</text>
<text x="639" y="286.1" font-size="7.8" text-anchor="middle" fill="#000" stroke="#000" stroke-width="0.15">550</text>
<text x="669.9" y="286.1" font-size="7.8" text-anchor="middle" fill="#000" stroke="#000" stroke-width="0.15">650</text>
<text x="701.4" y="286.1" font-size="7.8" text-anchor="middle" fill="#000" stroke="#000" stroke-width="0.15">750</text>
<text x="553.9" y="242" font-size="6.7" text-anchor="middle" font-weight="bold" fill="#000" stroke="#000" stroke-width="0.2" transform="rotate(-90 553.9 242)">Absorbance</text>
<text x="639.5" y="295.5" font-size="6.5" text-anchor="middle" font-weight="bold" fill="#000" stroke="#000" stroke-width="0.2">λ (nm)</text>
<path d="M575.6,262.4 C576.23,256.1 576.87,249.26 577.5,243.5 C578.07,238.34 578.63,232.39 579.2,229.2 C579.97,224.88 580.73,221.1 581.5,219.7 C582.53,217.81 583.57,216.2 584.6,216.2 C585.57,216.2 586.53,216.93 587.5,217.8 C588.43,218.64 589.37,221.79 590.3,224.5 C591.27,227.3 592.23,231.82 593.2,235.2 C594.27,238.93 595.33,242.98 596.4,245.8 C597.87,249.68 599.33,253.32 600.8,255.3 C602.03,256.97 603.27,258.06 604.5,259 C605.93,260.09 607.37,260.84 608.8,261.6 C611.97,263.29 615.13,264.98 618.3,266 C622.27,267.28 626.23,268.34 630.2,268.9 C634.93,269.57 639.67,269.8 644.4,270.3 C649.17,270.8 653.93,271.38 658.7,271.9 C663.43,272.41 668.17,273.19 672.9,273.4 C677.63,273.61 682.37,273.8 687.1,273.8 C691.87,273.8 696.63,273.8 701.4,273.8" fill="none" stroke="#f4505c" stroke-width="1.0" stroke-linejoin="round" stroke-linecap="round"/>
<line x1="484.5" y1="208.5" x2="484.5" y2="198.4" stroke="#000" stroke-width="1.3"/>
<path d="M484.5,193 L487.55,198.9 L481.45,198.9 Z" fill="#000"/>
<line x1="523.7" y1="270.9" x2="533.5" y2="270.9" stroke="#444" stroke-width="1.5"/>
<path d="M538.8,270.9 L533,273.9 L533,267.9 Z" fill="#000"/>
<g id="fix1"><rect x="14.71" y="59" width="2.69" height="2" fill="#fff"/><rect x="18.63" y="59" width="2.61" height="2" fill="#fff"/><rect x="152.18" y="225" width="2.69" height="2" fill="#fff"/><rect x="156.10" y="225" width="2.61" height="2" fill="#fff"/><rect x="207.65" y="225" width="2.69" height="2" fill="#fff"/><rect x="211.56" y="225" width="2.61" height="2" fill="#fff"/><rect x="48.83" y="51" width="2.16" height="2" fill="#fff"/><rect x="51.96" y="51" width="2.11" height="2" fill="#fff"/><rect x="151.44" y="437" width="2.69" height="2" fill="#fff"/><rect x="155.36" y="437" width="2.61" height="2" fill="#fff"/><rect x="207.54" y="437" width="2.69" height="2" fill="#fff"/><rect x="211.45" y="437" width="2.61" height="2" fill="#fff"/><rect x="151.94" y="243" width="1.99" height="2" fill="#fff"/><rect x="154.80" y="243" width="1.94" height="2" fill="#fff"/><rect x="189.70" y="373" width="2.30" height="2" fill="#fff"/><rect x="193.04" y="373" width="2.24" height="2" fill="#fff"/><rect x="509.48" y="357" width="3.04" height="2" fill="#fff"/><rect x="513.92" y="357" width="2.94" height="2" fill="#fff"/><rect x="565.26" y="357" width="3.04" height="2" fill="#fff"/><rect x="569.70" y="357" width="2.94" height="2" fill="#fff"/><rect x="556.48" y="222" width="2.22" height="2" fill="#fff"/><rect x="559.69" y="222" width="2.16" height="2" fill="#fff"/><rect x="556.48" y="212" width="2.22" height="2" fill="#fff"/><rect x="559.69" y="212" width="2.16" height="2" fill="#fff"/></g>
</svg>
</body></html>
